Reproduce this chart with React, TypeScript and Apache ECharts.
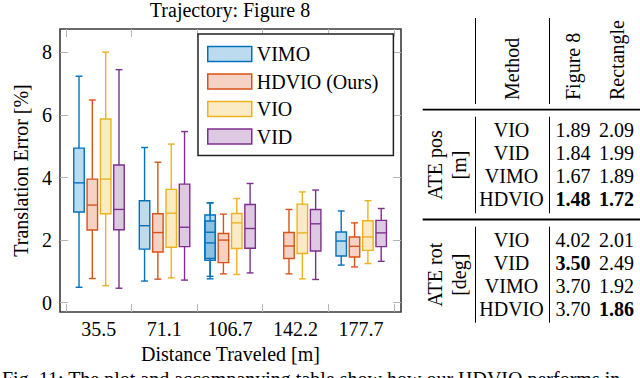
import React, { useEffect, useRef } from "react";
import * as echarts from "echarts";

// ---------- data ----------
const categories = ["35.5", "71.1", "106.7", "142.2", "177.7"];
const yTicks = [0, 2, 4, 6, 8];
// [groupIndex, min, Q1, median, Q3, max]
const vimoData = [
  [0, 0.49, 2.9, 3.83, 4.94, 7.24],
  [1, 0.69, 1.71, 2.46, 3.26, 4.96],
  [2, 0.84, 1.41, 2.25, 2.8, 3.19],
  [2, 0.76, 1.35, 1.91, 2.61, 3.19],
  [4, 1.2, 1.49, 1.97, 2.26, 2.93],
];
const hdvioData = [
  [0, 0.77, 2.32, 3.12, 3.95, 6.48],
  [1, 0.75, 1.62, 2.24, 2.84, 4.49],
  [2, 0.92, 1.28, 2.0, 2.21, 2.83],
  [3, 0.92, 1.41, 1.81, 2.24, 2.98],
  [4, 1.14, 1.46, 1.8, 2.1, 2.55],
];
const vioData = [
  [0, 0.54, 2.84, 3.95, 5.87, 8.01],
  [1, 0.79, 1.77, 2.86, 3.62, 5.07],
  [2, 0.9, 1.73, 2.55, 2.85, 3.33],
  [3, 0.76, 1.57, 2.23, 3.15, 3.54],
  [4, 1.25, 1.67, 2.1, 2.62, 3.26],
];
const vidData = [
  [0, 0.46, 2.33, 2.98, 4.4, 7.45],
  [1, 0.72, 1.79, 2.41, 3.79, 5.47],
  [2, 0.95, 1.74, 2.37, 3.14, 3.81],
  [3, 0.74, 1.65, 2.52, 2.98, 3.6],
  [4, 1.32, 1.79, 2.23, 2.63, 3.01],
];
const seriesNames = ["VIMO", "HDVIO (Ours)", "VIO", "VID"];

// table
const tableMethods = ["VIO", "VID", "VIMO", "HDVIO"];
const atePosFigure8 = [1.89, 1.84, 1.67, 1.48];
const atePosRectangle = [2.09, 1.99, 1.89, 1.72];
const ateRotFigure8 = [4.02, 3.5, 3.7, 3.7];
const ateRotRectangle = [2.01, 2.49, 1.92, 1.86];

const titleText = "Trajectory: Figure 8";
const xName = "Distance Traveled [m]";
const yName = "Translation Error [%]";
const caption = "Fig. 11: The plot and accompanying table show how our HDVIO performs in";

// ---------- styles ----------
const FONT = "'Liberation Serif', 'Times New Roman', Times, serif";
const strokes = ["#0072BD", "#D95319", "#EDB120", "#7E2F8E"];
const fills = [
  "rgba(0,114,189,0.26)",
  "rgba(217,83,25,0.26)",
  "rgba(237,177,32,0.26)",
  "rgba(126,47,142,0.26)",
];
const offsets = [-0.302, -0.099, 0.105, 0.308];
const BOX_W = 0.16;
const CAP_W = 0.105;
const LW = 1.4;

function makeRender(offset: number, stroke: string, fill: string) {
  return (params: any, api: any) => {
    const x = api.value(0);
    const cx = api.coord([x + offset, 0])[0];
    const yv = (i: number) => api.coord([x, api.value(i)])[1];
    const yMin = yv(1), yQ1 = yv(2), yMed = yv(3), yQ3 = yv(4), yMax = yv(5);
    const bw = api.size([BOX_W, 0])[0];
    const cw = api.size([CAP_W, 0])[0];
    const ls = { stroke, lineWidth: LW, fill: null };
    return {
      type: "group",
      children: [
        { type: "line", shape: { x1: cx, y1: yQ3, x2: cx, y2: yMax }, style: ls },
        { type: "line", shape: { x1: cx, y1: yQ1, x2: cx, y2: yMin }, style: ls },
        { type: "line", shape: { x1: cx - cw / 2, y1: yMax, x2: cx + cw / 2, y2: yMax }, style: ls },
        { type: "line", shape: { x1: cx - cw / 2, y1: yMin, x2: cx + cw / 2, y2: yMin }, style: ls },
        {
          type: "rect",
          shape: { x: cx - bw / 2, y: yQ3, width: bw, height: yQ1 - yQ3 },
          style: { fill, stroke, lineWidth: LW },
        },
        { type: "line", shape: { x1: cx - bw / 2, y1: yMed, x2: cx + bw / 2, y2: yMed }, style: ls },
      ],
    };
  };
}

function txt(x: number, y: number, text: string, opts: any = {}) {
  return {
    type: "text",
    x,
    y,
    rotation: opts.rot || 0,
    silent: true,
    style: {
      text,
      fontFamily: FONT,
      fontSize: 20,
      fill: "#000",
      align: opts.align || "center",
      verticalAlign: "middle",
      fontWeight: opts.bold ? "bold" : "normal",
    },
  };
}
function line(x1: number, y1: number, x2: number, y2: number, w = 1) {
  return { type: "line", silent: true, shape: { x1, y1, x2, y2 }, style: { stroke: "#000", lineWidth: w } };
}

function buildTable() {
  const els: any[] = [];
  const colM = 511.5, colF = 573, colR = 616.5;
  const vx1 = 475.5, vx2 = 549.5;
  els.push(txt(colM, 100, "Method", { rot: Math.PI / 2, align: "left" }));
  els.push(txt(colF, 100, "Figure 8", { rot: Math.PI / 2, align: "left" }));
  els.push(txt(colR, 100, "Rectangle", { rot: Math.PI / 2, align: "left" }));
  els.push(line(vx1, 18, vx1, 104));
  els.push(line(vx2, 18, vx2, 104));
  els.push(line(422.7, 109.7, 640, 109.7, 1.8));
  els.push(line(422.7, 219.5, 640, 219.5, 1.8));
  const groups = [
    { label: "ATE pos", unit: "[m]", a: atePosFigure8, b: atePosRectangle, y0: 129.5, top: 116.7, bot: 213.3 },
    { label: "ATE rot", unit: "[deg]", a: ateRotFigure8, b: ateRotRectangle, y0: 239.5, top: 226.7, bot: 322.7 },
  ];
  const step = 23.3;
  groups.forEach((g) => {
    const mid = (g.top + g.bot) / 2;
    els.push(txt(434.5, mid, g.label, { rot: Math.PI / 2 }));
    els.push(txt(459, mid, g.unit, { rot: Math.PI / 2 }));
    els.push(line(vx1, g.top, vx1, g.bot));
    els.push(line(vx2, g.top, vx2, g.bot));
    const minA = Math.min(...g.a), minB = Math.min(...g.b);
    tableMethods.forEach((m, i) => {
      const y = g.y0 + i * step;
      els.push(txt(colM, y, m));
      els.push(txt(colF, y, g.a[i].toFixed(2), { bold: g.a[i] === minA }));
      els.push(txt(colR, y, g.b[i].toFixed(2), { bold: g.b[i] === minB }));
    });
  });
  return els;
}

export default function App() {
  const ref = useRef<HTMLDivElement>(null);
  useEffect(() => {
    if (!ref.current) return;
    const chart = echarts.init(ref.current, null, { renderer: "svg" });
    const allData = [vimoData, hdvioData, vioData, vidData];
    const tickStyle = { show: true, inside: true, length: 8, lineStyle: { color: "#b5b5b5", width: 1 } };
    const noLine = { show: false, onZero: false };
    const labelFont = { fontFamily: FONT, fontSize: 20, color: "#000" };
    chart.setOption({
      animation: false,
      backgroundColor: "#fff",
      title: {
        text: titleText,
        left: 230,
        top: 0,
        padding: 0,
        textAlign: "center",
        textVerticalAlign: "top",
        textStyle: { ...labelFont, fontWeight: "normal", lineHeight: 20 },
      },
      legend: {
        orient: "vertical",
        left: 198,
        top: 34,
        padding: [10, 15, 9, 9],
        itemWidth: 44,
        itemHeight: 15,
        itemGap: 7.5,
        borderColor: "#222",
        borderWidth: 1.5,
        backgroundColor: "#fff",
        textStyle: { ...labelFont, lineHeight: 20 },
        data: seriesNames.map((n, i) => ({
          name: n,
          icon: "rect",
          itemStyle: { color: fills[i], borderColor: strokes[i], borderWidth: 1.5 },
        })),
      },
      grid: {
        left: 60,
        top: 29,
        width: 341,
        height: 283,
        show: true,
        borderColor: "#3a3a3a",
        borderWidth: 1.6,
        backgroundColor: "transparent",
      },
      xAxis: [
        {
          type: "value",
          min: -0.592,
          max: 4.61,
          position: "bottom",
          axisLine: noLine,
          splitLine: { show: false },
          axisTick: { ...tickStyle, customValues: [-0.5, 0.5, 1.5, 2.5, 3.5, 4.5] },
          axisLabel: {
            ...labelFont,
            margin: 7,
            customValues: [0, 1, 2, 3, 4],
            formatter: (v: number) => categories[Math.round(v)] ?? "",
          },
          name: xName,
          nameLocation: "middle",
          nameGap: 31,
          nameTextStyle: labelFont,
        },
        {
          type: "value",
          min: -0.592,
          max: 4.61,
          position: "top",
          axisLine: noLine,
          splitLine: { show: false },
          axisTick: { ...tickStyle, customValues: [-0.5, 0.5, 1.5, 2.5, 3.5, 4.5] },
          axisLabel: { show: false },
        },
      ],
      yAxis: [
        {
          type: "value",
          min: -0.3,
          max: 8.75,
          position: "left",
          axisLine: noLine,
          splitLine: { show: false },
          axisTick: { ...tickStyle, customValues: yTicks },
          axisLabel: { ...labelFont, margin: 8, customValues: yTicks },
          name: yName,
          nameLocation: "middle",
          nameGap: 28,
          nameTextStyle: labelFont,
        },
        {
          type: "value",
          min: -0.3,
          max: 8.75,
          position: "right",
          axisLine: noLine,
          splitLine: { show: false },
          axisTick: { ...tickStyle, customValues: yTicks },
          axisLabel: { show: false },
        },
      ],
      series: allData.map((d, i) => ({
        type: "custom",
        name: seriesNames[i],
        xAxisIndex: 0,
        yAxisIndex: 0,
        data: d,
        encode: { x: 0, y: [1, 2, 3, 4, 5] },
        itemStyle: { color: fills[i], borderColor: strokes[i] },
        renderItem: makeRender(offsets[i], strokes[i], fills[i]),
      })),
      graphic: [
        ...buildTable(),
        {
          type: "text",
          x: 2,
          y: 378.5,
          silent: true,
          style: { text: caption, fontFamily: FONT, fontSize: 20, fill: "#000", align: "left", verticalAlign: "middle" },
        },
      ],
    });
    return () => chart.dispose();
  }, []);
  return (
    <div
      ref={ref}
      style={{ position: "fixed", left: 0, top: 0, width: 640, height: 378, background: "#fff" }}
    />
  );
}
